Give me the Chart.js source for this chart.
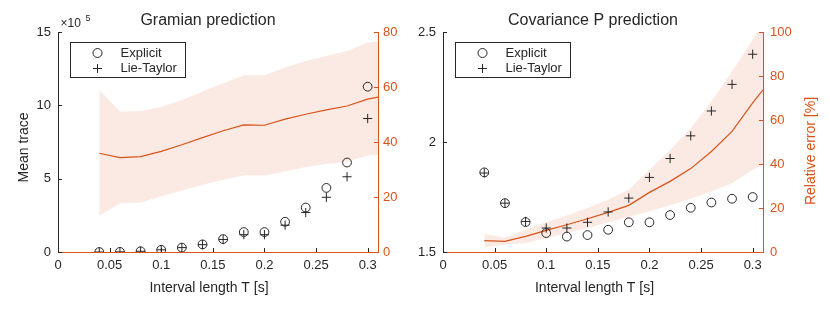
<!DOCTYPE html>
<html><head><meta charset="utf-8">
<script src="https://cdn.jsdelivr.net/npm/chart.js@4/dist/chart.umd.min.js"></script>
<style>
html,body{margin:0;padding:0;background:#fff;}
#wrap{position:relative;width:830px;height:312px;overflow:hidden;background:#fff;}
.p{position:absolute;top:0;width:415px;height:312px;}
canvas{display:block;}
</style></head><body>
<div id="wrap">
<div class="p" style="left:0"><canvas id="c1" width="415" height="312"></canvas></div>
<div class="p" style="left:415px"><canvas id="c2" width="415" height="312"></canvas></div>
</div>
<script>
// ---------- data ----------
const T = [0.04, 0.06, 0.08, 0.10, 0.12, 0.14, 0.16, 0.18, 0.20, 0.22, 0.24, 0.26, 0.28, 0.30];
const errT = [0.04, 0.06, 0.08, 0.10, 0.12, 0.14, 0.16, 0.18, 0.20, 0.22, 0.24, 0.26, 0.28, 0.30, 0.31];
const xTicks = [0, 0.05, 0.10, 0.15, 0.20, 0.25, 0.30];

// Gramian prediction: mean trace
const gramExplicit = [0, 1000, 5000, 15000, 30000, 52000, 88000, 136000, 136000, 206000, 303000, 437000, 610000, 1127000];
const gramLieTaylor = [0, 1000, 5000, 15000, 30000, 50000, 85000, 118000, 118000, 183000, 269000, 373000, 513000, 910000];
const gramErrMean = [35.9, 34.3, 34.7, 36.6, 39.0, 41.6, 44.1, 46.2, 46.1, 48.3, 50.1, 51.7, 53.1, 55.6, 56.3];
const gramErrUpper = [59.0, 51.1, 51.3, 52.7, 55.3, 58.4, 61.4, 64.3, 64.3, 67.1, 69.5, 71.3, 73.1, 76.2, 76.6];
const gramErrLower = [13.2, 17.6, 18.0, 20.2, 22.4, 24.5, 26.3, 27.8, 27.8, 29.3, 30.9, 32.0, 32.9, 35.1, 35.4];
const gramLeftTicks = [0, 500000, 1000000, 1500000];
const gramRightTicks = [0, 20, 40, 60, 80];

// Covariance P prediction: mean trace
const covExplicit = [1.862, 1.722, 1.636, 1.586, 1.570, 1.577, 1.601, 1.635, 1.635, 1.668, 1.701, 1.725, 1.742, 1.750];
const covLieTaylor = [1.859, 1.722, 1.639, 1.609, 1.609, 1.635, 1.682, 1.745, 1.839, 1.925, 2.028, 2.141, 2.262, 2.399];
const covErrMean = [5.2, 4.8, 7.1, 9.8, 12.4, 15.1, 18.0, 21.2, 27.1, 32.1, 37.9, 45.7, 54.8, 67.8, 73.7];
const covErrUpper = [8.2, 6.5, 10.1, 13.5, 16.6, 20.0, 23.8, 28.3, 37.4, 46.4, 56.3, 68.4, 82.0, 96.4, 104.0];
const covErrLower = [2.0, 3.4, 4.1, 6.2, 8.6, 10.9, 13.5, 15.9, 18.5, 21.2, 24.2, 27.5, 31.3, 37.4, 39.6];
const covLeftTicks = [1.5, 2, 2.5];
const covRightTicks = [0, 20, 40, 60, 80, 100];

// ---------- style ----------
const DARK = '#262626';
const ORANGE = '#D95319';
const BAND = 'rgba(217,83,25,0.12)';
const FONT = "'Liberation Sans', Arial, Helvetica, sans-serif";

function pts(xs, ys) { return xs.map((x, i) => ({ x: x, y: ys[i] })); }
function fmt(v) { return String(Math.round(v * 1000) / 1000); }

const inwardTicks = {
  id: 'inwardTicks',
  afterDraw(chart) {
    const ctx = chart.ctx, a = chart.chartArea, L = 4;
    ctx.save();
    ctx.lineWidth = 1;
    const sx = chart.scales.x;
    ctx.strokeStyle = DARK;
    sx.ticks.forEach(t => {
      const px = Math.round(sx.getPixelForValue(t.value)) + 0.5;
      ctx.beginPath(); ctx.moveTo(px, a.bottom); ctx.lineTo(px, a.bottom - L); ctx.stroke();
    });
    const sy = chart.scales.y;
    sy.ticks.forEach(t => {
      const py = Math.round(sy.getPixelForValue(t.value)) + 0.5;
      ctx.beginPath(); ctx.moveTo(a.left, py); ctx.lineTo(a.left + L, py); ctx.stroke();
    });
    const sy2 = chart.scales.y2;
    ctx.strokeStyle = ORANGE;
    sy2.ticks.forEach(t => {
      const py = Math.round(sy2.getPixelForValue(t.value)) + 0.5;
      ctx.beginPath(); ctx.moveTo(a.right, py); ctx.lineTo(a.right - L, py); ctx.stroke();
    });
    ctx.restore();
  }
};

const annot = {
  id: 'annot',
  afterDraw(chart, args, o) {
    const ctx = chart.ctx, a = chart.chartArea;
    ctx.save();
    // title
    ctx.fillStyle = DARK;
    ctx.font = '16px ' + FONT;
    ctx.textAlign = 'center'; ctx.textBaseline = 'alphabetic';
    ctx.fillText(o.title, o.titleX, 25);
    // x title
    ctx.font = '14px ' + FONT;
    ctx.textBaseline = 'middle';
    ctx.fillText(o.xTitle, o.xTitleX, 288);
    // y titles (rotated)
    if (o.yTitle) {
      ctx.save(); ctx.translate(o.yTitleX, o.yTitleY); ctx.rotate(-Math.PI / 2);
      ctx.fillStyle = DARK; ctx.fillText(o.yTitle, 0, 0); ctx.restore();
    }
    if (o.y2Title) {
      ctx.save(); ctx.translate(o.y2TitleX, o.y2TitleY); ctx.rotate(-Math.PI / 2);
      ctx.fillStyle = ORANGE; ctx.fillText(o.y2Title, 0, 0); ctx.restore();
    }
    // exponent
    if (o.exponent) {
      ctx.textAlign = 'left'; ctx.textBaseline = 'alphabetic'; ctx.fillStyle = DARK;
      ctx.font = '12px ' + FONT;
      ctx.fillText('\u00D710', a.left + 2.5, 27);
      ctx.font = '9px ' + FONT;
      ctx.fillText(o.exponent, a.left + 27.5, 21);
    }
    // legend
    const bx = Math.round(a.left + 12) + 0.5, by = Math.round(a.top + 10) + 0.5, bw = 115, bh = 35;
    ctx.fillStyle = '#fff'; ctx.fillRect(bx, by, bw, bh);
    ctx.strokeStyle = DARK; ctx.lineWidth = 1; ctx.strokeRect(bx, by, bw, bh);
    const mx = bx + 27, r = 4.5;
    const rows = [by + 10.5, by + 26];
    ctx.strokeStyle = DARK;
    ctx.beginPath(); ctx.arc(mx, rows[0], r, 0, Math.PI * 2); ctx.stroke();
    ctx.beginPath(); ctx.moveTo(mx - r, rows[1]); ctx.lineTo(mx + r, rows[1]);
    ctx.moveTo(mx, rows[1] - r); ctx.lineTo(mx, rows[1] + r); ctx.stroke();
    ctx.fillStyle = DARK; ctx.font = '13px ' + FONT; ctx.textAlign = 'left'; ctx.textBaseline = 'middle';
    ctx.fillText(o.legend[0], bx + 50, rows[0]);
    ctx.fillText(o.legend[1], bx + 50, rows[1]);
    ctx.restore();
  }
};

function makeChart(id, spec) {
  const datasets = [
    { label: spec.legend[0], data: pts(T, spec.explicit), yAxisID: 'y', showLine: false,
      pointStyle: 'circle', pointRadius: 4.4, pointBorderWidth: 1, pointBorderColor: DARK,
      pointBackgroundColor: 'rgba(0,0,0,0)', borderColor: DARK },
    { label: spec.legend[1], data: pts(T, spec.lie), yAxisID: 'y', showLine: false,
      pointStyle: 'cross', pointRadius: 4.6, pointBorderWidth: 1, pointBorderColor: DARK, borderColor: DARK },
    { label: 'mean error', data: pts(errT, spec.mean), yAxisID: 'y2', showLine: true,
      borderColor: ORANGE, borderWidth: 1.2, pointRadius: 0, tension: 0, fill: false },
    { label: 'upper', data: pts(errT, spec.upper), yAxisID: 'y2', showLine: true,
      borderWidth: 0, borderColor: 'rgba(0,0,0,0)', pointRadius: 0, backgroundColor: BAND, fill: '+1' },
    { label: 'lower', data: pts(errT, spec.lower), yAxisID: 'y2', showLine: true,
      borderWidth: 0, borderColor: 'rgba(0,0,0,0)', pointRadius: 0, fill: false }
  ];
  return new Chart(document.getElementById(id), {
    type: 'line',
    data: { datasets },
    options: {
      responsive: false, animation: false,
      layout: { padding: { top: 32, left: 0, right: 0, bottom: 0 } },
      plugins: { legend: { display: false }, tooltip: { enabled: false }, annot: spec.annot },
      scales: {
        x: {
          type: 'linear', min: 0, max: 0.31,
          afterFit: s => { s.height = 60; },
          afterBuildTicks: s => { s.ticks = xTicks.map(v => ({ value: v })); },
          ticks: { callback: v => fmt(v), color: DARK, font: { family: FONT, size: 13 }, padding: 6, maxRotation: 0, autoSkip: false },
          grid: { display: true, drawOnChartArea: false, drawTicks: false },
          border: { display: true, color: ORANGE, width: 1 }
        },
        y: {
          type: 'linear', position: 'left', min: spec.yMin, max: spec.yMax,
          afterFit: s => { s.width = spec.yWidth; },
          afterBuildTicks: s => { s.ticks = spec.yTicks.map(v => ({ value: v })); },
          ticks: { callback: spec.yFmt, color: DARK, font: { family: FONT, size: 13 }, padding: 7, autoSkip: false },
          grid: { display: true, drawOnChartArea: false, drawTicks: false },
          border: { display: true, color: DARK, width: 1 }
        },
        y2: {
          type: 'linear', position: 'right', min: 0, max: spec.y2Max,
          afterFit: s => { s.width = spec.y2Width; },
          afterBuildTicks: s => { s.ticks = spec.y2Ticks.map(v => ({ value: v })); },
          ticks: { callback: v => fmt(v), color: ORANGE, font: { family: FONT, size: 13 }, padding: spec.y2Pad, autoSkip: false },
          grid: { display: true, drawOnChartArea: false, drawTicks: false },
          border: { display: true, color: ORANGE, width: 1 }
        }
      }
    },
    plugins: [inwardTicks, annot]
  });
}

makeChart('c1', {
  legend: ['Explicit', 'Lie-Taylor'],
  explicit: gramExplicit, lie: gramLieTaylor,
  mean: gramErrMean, upper: gramErrUpper, lower: gramErrLower,
  yMin: 0, yMax: 1500000, yTicks: gramLeftTicks, yFmt: v => fmt(v / 100000),
  y2Max: 80, y2Ticks: gramRightTicks, yWidth: 58, y2Width: 37, y2Pad: 5,
  annot: { title: 'Gramian prediction', titleX: 208, xTitle: 'Interval length T [s]', xTitleX: 209,
           yTitle: 'Mean trace', yTitleX: 24, yTitleY: 147.5, exponent: '5', legend: ['Explicit', 'Lie-Taylor'] }
});

makeChart('c2', {
  legend: ['Explicit', 'Lie-Taylor'],
  explicit: covExplicit, lie: covLieTaylor,
  mean: covErrMean, upper: covErrUpper, lower: covErrLower,
  yMin: 1.5, yMax: 2.5, yTicks: covLeftTicks, yFmt: v => fmt(v),
  y2Max: 100, y2Ticks: covRightTicks, yWidth: 28, y2Width: 67, y2Pad: 7,
  annot: { title: 'Covariance P prediction', titleX: 178, xTitle: 'Interval length T [s]', xTitleX: 179.5,
           y2Title: 'Relative error [%]', y2TitleX: 396, y2TitleY: 151, legend: ['Explicit', 'Lie-Taylor'] }
});
</script>
</body></html>
